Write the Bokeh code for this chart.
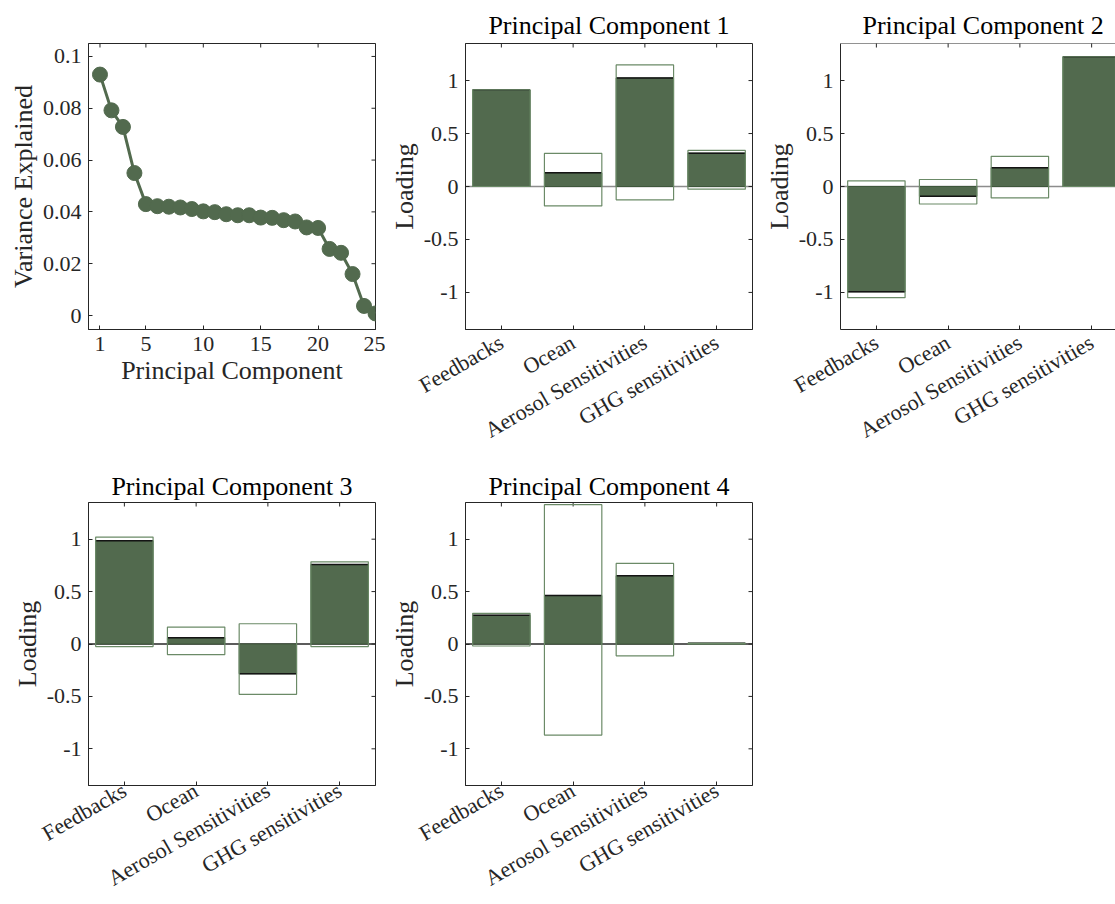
import math
from bokeh.plotting import figure
from bokeh.models import FixedTicker, Range1d, Span, ColumnDataSource
from bokeh.layouts import row, column
from bokeh.embed import file_html
from bokeh.resources import INLINE

# ---------------- data ----------------
components = list(range(1, 26))
variance = [0.0930, 0.0792, 0.0728, 0.0550, 0.0430, 0.0422, 0.0420, 0.0417,
            0.0411, 0.0402, 0.0399, 0.0391, 0.0387, 0.0387, 0.0378, 0.0377,
            0.0368, 0.0363, 0.0340, 0.0338, 0.0257, 0.0242, 0.0160, 0.0037,
            0.0008]
var_xticks = [1, 5, 10, 15, 20, 25]
var_yticks = [0, 0.02, 0.04, 0.06, 0.08, 0.1]
var_ytick_labels = ["0", "0.02", "0.04", "0.06", "0.08", "0.1"]

categories = ["Feedbacks", "Ocean", "Aerosol Sensitivities", "GHG sensitivities"]
cat_positions = [1, 2, 3, 4]
loading_ticks = [-1, -0.5, 0, 0.5, 1]
loading_tick_labels = ["-1", "-0.5", "0", "0.5", "1"]

pc1_loading = [0.912, 0.129, 1.025, 0.315]
pc1_low = [0.0, -0.183, -0.126, -0.025]
pc1_high = [0.912, 0.312, 1.148, 0.341]

pc2_loading = [-0.994, -0.092, 0.177, 1.225]
pc2_low = [-1.050, -0.165, -0.108, 0.0]
pc2_high = [0.054, 0.066, 0.285, 1.225]

pc3_loading = [0.986, 0.060, -0.284, 0.758]
pc3_low = [-0.025, -0.101, -0.480, -0.025]
pc3_high = [1.020, 0.161, 0.193, 0.784]

pc4_loading = [0.274, 0.463, 0.652, 0.006]
pc4_low = [-0.019, -0.869, -0.113, 0.0]
pc4_high = [0.293, 1.329, 0.769, 0.006]

# ---------------- style ----------------
FONT = "Liberation Serif"
AX = "#262626"
FILL = "#526a4e"
EDGE = "#3e573b"
BOX = "#6b8a67"
TICK_FS = "22px"
CAT_FS = "22px"
LABEL_FS = "26px"


def style_axis(ax, ticks, labels=None, fs=TICK_FS):
    ax.ticker = FixedTicker(ticks=ticks)
    ax.major_tick_in = 4
    ax.major_tick_out = 0
    ax.minor_tick_line_color = None
    ax.axis_line_color = AX
    ax.major_tick_line_color = AX
    ax.axis_line_width = 1
    ax.major_label_text_font = FONT
    ax.major_label_text_color = AX
    ax.major_label_text_font_size = fs
    ax.major_label_standoff = 7
    ax.axis_label_text_font = FONT
    ax.axis_label_text_font_size = LABEL_FS
    ax.axis_label_text_font_style = "normal"
    ax.axis_label_text_color = AX
    ax.axis_label_standoff = 2
    if labels is not None:
        ax.major_label_overrides = {t: l for t, l in zip(ticks, labels)}


def make_fig(width, height, x0, x1, y0, y1, xticks, yticks, ylabels,
             xlabels=None, title=None, mb_left=80, mb_right=8, mb_top=35,
             mb_bottom=100, right_edge=True, title_offset=None, xfs=TICK_FS,
             title_standoff=4):
    p = figure(width=width, height=height, x_range=Range1d(x0, x1),
               y_range=Range1d(y0, y1),
               output_backend="svg", toolbar_location=None,
               min_border_left=mb_left, min_border_right=mb_right,
               min_border_top=mb_top, min_border_bottom=mb_bottom,
               background_fill_color="white", border_fill_color="white")
    p.grid.visible = False
    style_axis(p.below[0], xticks, xlabels, fs=xfs)
    style_axis(p.left[0], yticks, ylabels)
    # mirrored inward ticks on top (and right) edges
    p.scatter(xticks, [y1] * len(xticks), marker="dash", angle=math.pi / 2,
              size=8, line_color=AX, line_width=1)
    if right_edge:
        p.outline_line_color = AX
        p.outline_line_width = 1
        p.scatter([x1] * len(yticks), yticks, marker="dash", size=8,
                  line_color=AX, line_width=1)
    else:
        p.outline_line_color = None
        p.add_layout(Span(location=y1, dimension="width", line_color=AX,
                          line_width=1))
    if title is not None:
        p.title.text = title
        p.title.text_font = FONT
        p.title.text_font_size = LABEL_FS
        p.title.text_font_style = "normal"
        p.title.text_color = "black"
        p.title.standoff = title_standoff
        if title_offset is None:
            p.title.align = "center"
        else:
            p.title.align = "left"
            p.title.offset = title_offset
    return p


def bar_panel(title, loading, low, high, width, height, mb_left, mb_right,
              mb_top, mb_bottom, xend=4.5, right_edge=True,
              zero_color="#8c8c8c", title_offset=None, cat_standoff=11,
              title_standoff=7):
    p = make_fig(width, height, 0.5, xend, -1.35, 1.35,
                 cat_positions, loading_ticks, loading_tick_labels,
                 xlabels=categories, title=title, mb_left=mb_left,
                 mb_right=mb_right, mb_top=mb_top, mb_bottom=mb_bottom,
                 right_edge=right_edge, title_offset=title_offset, xfs=CAT_FS,
                 title_standoff=title_standoff)
    xa = p.below[0]
    xa.major_label_orientation = math.pi / 6
    xa.major_label_standoff = cat_standoff
    p.left[0].axis_label = "Loading"
    p.add_layout(Span(location=0, dimension="width", line_color=zero_color,
                      line_width=1.5, level="underlay"))
    half = 0.4
    src = ColumnDataSource(dict(
        x=cat_positions, v=loading, lo=low, hi=high,
        x0=[c - half for c in cat_positions],
        x1=[c + half for c in cat_positions]))
    p.vbar(x="x", width=2 * half, bottom=0, top="v", fill_color=FILL,
           line_color=EDGE, line_width=1, source=src)
    p.segment(x0="x0", y0="v", x1="x1", y1="v", line_color="#141414",
              line_width=1.5, source=src)
    p.vbar(x="x", width=2 * half, bottom="lo", top="hi", fill_color=None,
           line_color=BOX, line_width=1.2, source=src)
    return p


# Layout sizes (page has no margin: frames at x=88/465/840, y=43/502)
H1, H2 = 467, 437

p0 = make_fig(385, H1, 0, 25, -0.0054, 0.105,
              var_xticks, var_yticks, var_ytick_labels,
              mb_left=88, mb_right=10, mb_top=43, mb_bottom=138)
p0.below[0].axis_label = "Principal Component"
p0.left[0].axis_label = "Variance Explained"
p0.line(components, variance, line_width=3, line_color=FILL)
p0.scatter(components, variance, size=15, fill_color=FILL, line_color=FILL)

p1 = bar_panel("Principal Component 1", pc1_loading, pc1_low, pc1_high,
               375, H1, 80, 8, 43, 138)
p2 = bar_panel("Principal Component 2", pc2_loading, pc2_low, pc2_high,
               355, H1, 80, 0, 43, 138, xend=0.5 + 4 * 275 / 287,
               right_edge=False, title_offset=22)
p3 = bar_panel("Principal Component 3", pc3_loading, pc3_low, pc3_high,
               385, H2, 88, 10, 35, 116, zero_color=AX, cat_standoff=3,
               title_standoff=4)
p4 = bar_panel("Principal Component 4", pc4_loading, pc4_low, pc4_high,
               375, H2, 80, 8, 35, 116, zero_color=AX, cat_standoff=3,
               title_standoff=4)

layout = column(row(p0, p1, p2, spacing=0), row(p3, p4, spacing=0), spacing=0)

open("out.html", "w").write(file_html(layout, INLINE))
